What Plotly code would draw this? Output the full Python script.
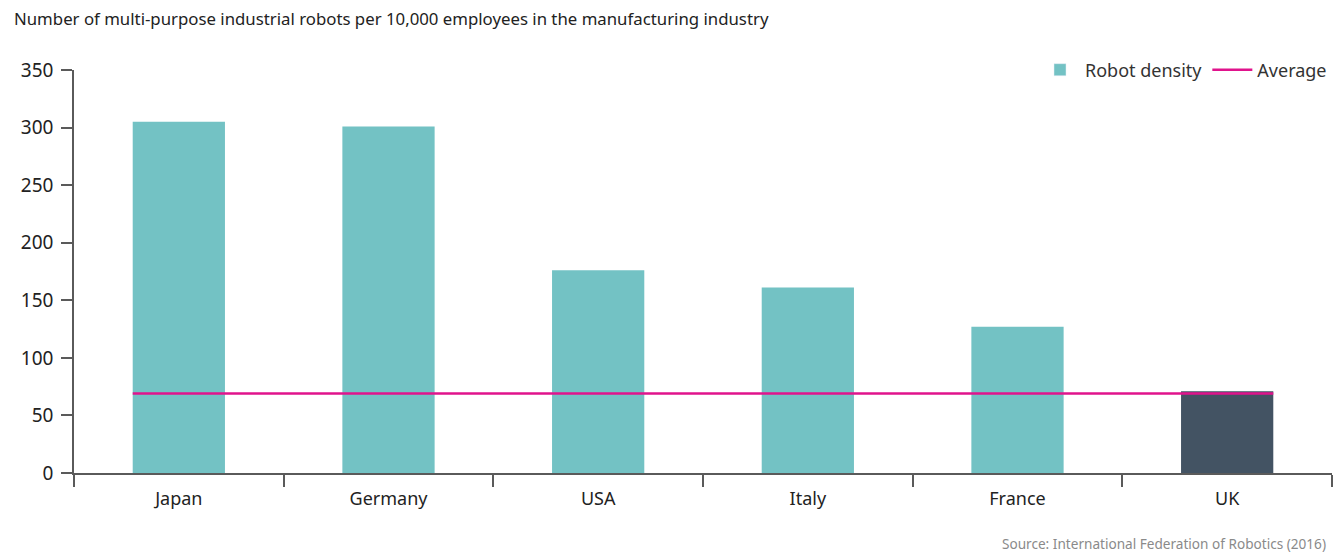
import plotly.graph_objects as go

countries = ["Japan", "Germany", "USA", "Italy", "France", "UK"]
robot_density = [305, 301, 176, 161, 127, 71]
average_density = 69
bar_colors = ["#73C2C4", "#73C2C4", "#73C2C4", "#73C2C4", "#73C2C4", "#435363"]
y_ticks = [0, 50, 100, 150, 200, 250, 300, 350]

FONT = "Noto Sans"
BAR_WIDTH = 0.44

fig = go.Figure()

fig.add_trace(go.Bar(
    x=countries,
    y=robot_density,
    name="Robot density",
    marker=dict(color=bar_colors, line=dict(width=0)),
    width=BAR_WIDTH,
    showlegend=False,
    xaxis="x",
    yaxis="y",
))

# Legend swatch for the bars stays teal even though UK is dark
fig.add_trace(go.Bar(
    x=[None], y=[None], name="Robot density",
    marker=dict(color="#73C2C4"), xaxis="x", yaxis="y",
))

# Average line runs from the left edge of the first bar to the right edge of the last
n = len(countries)
fig.add_trace(go.Scatter(
    x=[0 - BAR_WIDTH / 2, (n - 1) + BAR_WIDTH / 2],
    y=[average_density, average_density],
    mode="lines",
    name="Average",
    line=dict(color="#E0138C", width=2.5),
    xaxis="x2",
    yaxis="y",
))

axis_color = "#5a5a5a"

fig.update_layout(
    width=1334,
    height=552,
    margin=dict(l=74, r=2, t=70, b=79),
    paper_bgcolor="white",
    plot_bgcolor="white",
    font=dict(family=FONT, color="#222222", size=18),
    showlegend=True,
    legend=dict(
        orientation="h",
        x=1.0, xanchor="right",
        y=1.0, yanchor="middle",
        font=dict(size=18, color="#333333"),
        bgcolor="rgba(0,0,0,0)",
        itemwidth=40,
        traceorder="normal",
    ),
    bargap=1 - BAR_WIDTH,
    xaxis=dict(
        type="category",
        categoryorder="array",
        categoryarray=countries,
        range=[-0.5, n - 0.5],
        showline=True,
        linecolor=axis_color,
        linewidth=1.5,
        ticks="outside",
        tickson="boundaries",
        ticklen=12,
        tickcolor=axis_color,
        tickwidth=1.5,
        ticklabelstandoff=9,
        showgrid=False,
        tickfont=dict(size=18, color="#222222"),
        fixedrange=True,
    ),
    xaxis2=dict(
        overlaying="x",
        range=[-0.5, n - 0.5],
        visible=False,
        showgrid=False,
        zeroline=False,
    ),
    yaxis=dict(
        range=[0, 350],
        tickvals=y_ticks,
        showline=True,
        linecolor=axis_color,
        linewidth=1.5,
        ticks="outside",
        ticklen=11,
        tickcolor=axis_color,
        tickwidth=1.5,
        ticklabelstandoff=4,
        showgrid=False,
        zeroline=False,
        tickfont=dict(size=19, color="#222222"),
    ),
    annotations=[
        dict(
            text="Number of multi-purpose industrial robots per 10,000 employees in the manufacturing industry",
            xref="paper", yref="paper",
            x=0, y=1, xshift=-62, yshift=52,
            xanchor="left", yanchor="middle",
            showarrow=False,
            font=dict(size=16.8, color="#222222", family=FONT),
        ),
        dict(
            text="Source: International Federation of Robotics (2016)",
            xref="paper", yref="paper",
            x=1, y=0, xshift=-4, yshift=-70,
            xanchor="right", yanchor="middle",
            showarrow=False,
            font=dict(size=13.6, color="#8a8a8a", family=FONT),
        ),
    ],
)

fig.write_html("out.html")
